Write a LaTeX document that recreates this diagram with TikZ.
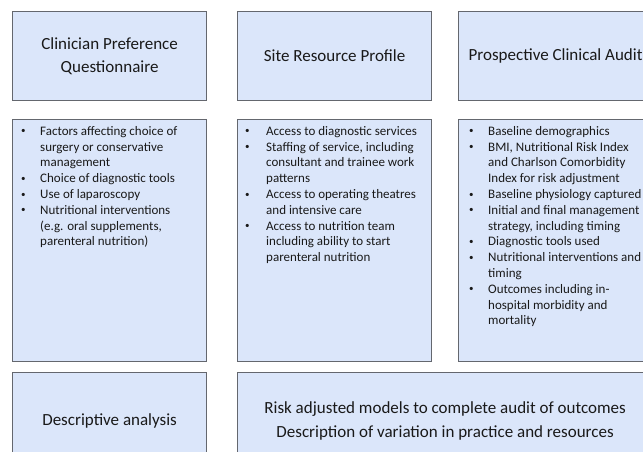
\documentclass[tikz,border=0pt]{standalone}
\usepackage{fontspec}
\setmainfont{Carlito}
\definecolor{boxfill}{RGB}{219,230,250}
\definecolor{boxline}{RGB}{100,103,110}
\definecolor{txt}{RGB}{25,25,25}
\newcommand\blt{\raisebox{1.3pt}{\fontsize{9}{9}\selectfont\textbullet}}
\begin{document}
\begin{tikzpicture}[x=1pt,y=-1pt,
  panel/.style={draw=boxline, fill=boxfill, line width=1.2pt, anchor=north west,
    inner sep=0pt, align=center, text=txt, font=\fontsize{17}{23.5}\selectfont},
  listtext/.style={anchor=north west, inner sep=0pt, text=txt,
    font=\fontsize{13}{15.8}\selectfont}]
\useasboundingbox (0,0) rectangle (643,452);
\clip (0,0) rectangle (643,452);
% top row
\node[panel, minimum width=194pt, minimum height=89pt] (t1) at (12,11) {Clinician Preference\\Questionnaire};
\node[panel, minimum width=194pt, minimum height=89pt] (t2) at (237,11) {Site Resource Profile};
\node[panel, minimum width=194pt, minimum height=89pt] (t3) at (458,11) {Prospective Clinical Audit};
% middle row
\node[panel, minimum width=194pt, minimum height=242pt] (m1) at (12,119) {};
\node[panel, minimum width=194pt, minimum height=242pt] (m2) at (237,119) {};
\node[panel, minimum width=194pt, minimum height=242pt] (m3) at (458,119) {};
% bottom row
\node[panel, minimum width=194pt, minimum height=97pt] (b1) at (12,372) {Descriptive analysis};
\node[panel, minimum width=415pt, minimum height=97pt] (b2) at (237,372) {Risk adjusted models to complete audit of outcomes\\Description of variation in practice and resources};
% lists
\node[listtext] (l1) at (21,124) {\begin{tabular}{@{}p{19pt}@{}l@{}}
\blt & Factors affecting choice of\\
     & surgery or conservative\\
     & management\\
\blt & Choice of diagnostic tools\\
\blt & Use of laparoscopy\\
\blt & Nutritional interventions\\
     & (e.g. oral supplements,\\
     & parenteral nutrition)
\end{tabular}};
\node[listtext] (l2) at (245,124) {\begin{tabular}{@{}p{21pt}@{}l@{}}
\blt & Access to diagnostic services\\
\blt & Staffing of service, including\\
     & consultant and trainee work\\
     & patterns\\
\blt & Access to operating theatres\\
     & and intensive care\\
\blt & Access to nutrition team\\
     & including ability to start\\
     & parenteral nutrition
\end{tabular}};
\node[listtext] (l3) at (469,124) {\begin{tabular}{@{}p{19pt}@{}l@{}}
\blt & Baseline demographics\\
\blt & BMI, Nutritional Risk Index\\
     & and Charlson Comorbidity\\
     & Index for risk adjustment\\
\blt & Baseline physiology captured\\
\blt & Initial and final management\\
     & strategy, including timing\\
\blt & Diagnostic tools used\\
\blt & Nutritional interventions and\\
     & timing\\
\blt & Outcomes including in-\\
     & hospital morbidity and\\
     & mortality
\end{tabular}};
\end{tikzpicture}
\end{document}
